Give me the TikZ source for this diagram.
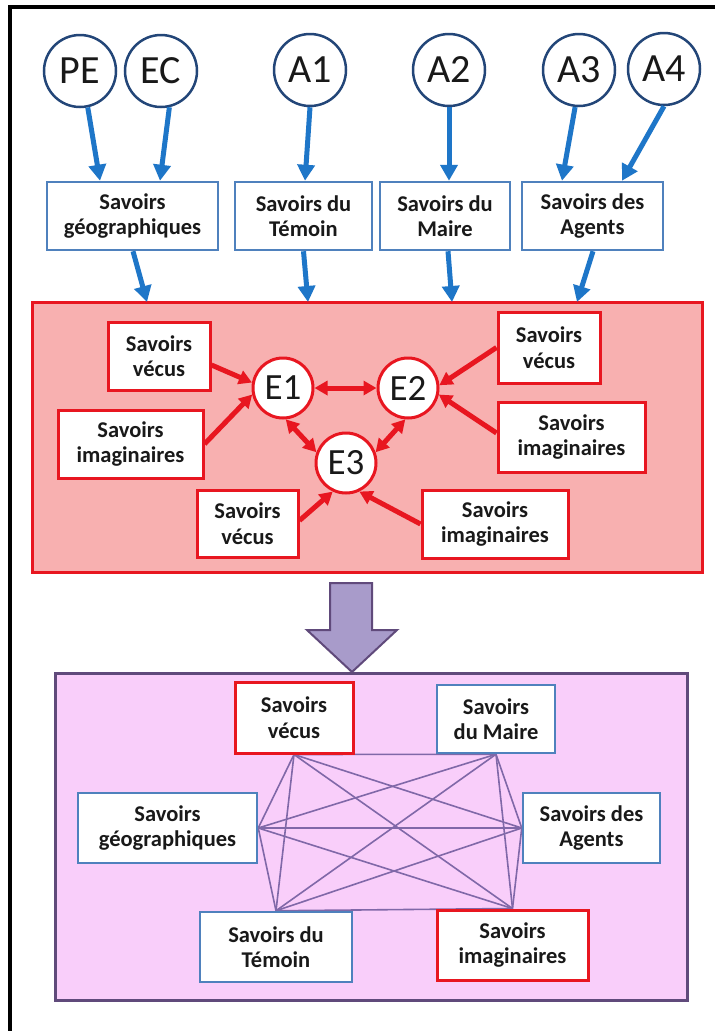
\documentclass[tikz,border=0pt]{standalone}
\usepackage{fontspec}
\setmainfont{Carlito}
\usetikzlibrary{arrows.meta,calc}
\definecolor{bluearrow}{RGB}{30,118,200}
\definecolor{boxblue}{RGB}{79,129,189}
\definecolor{circblue}{RGB}{35,70,120}
\definecolor{redline}{RGB}{232,22,32}
\definecolor{redfill}{RGB}{248,176,176}
\definecolor{purpfill}{RGB}{249,206,250}
\definecolor{purpline}{RGB}{96,74,123}
\definecolor{purpedge}{RGB}{128,104,168}
\definecolor{arrowfill}{RGB}{168,155,202}
\definecolor{txt}{RGB}{25,25,25}
\pgfdeclarelayer{back}
\pgfdeclarelayer{mid}
\pgfsetlayers{back,mid,main}
\begin{document}
\begin{tikzpicture}[x=1pt,y=-1pt,
 lbl/.style={font=\fontsize{22.5}{25.5}\selectfont\bfseries, text=txt, align=center, inner sep=0pt, fill=white},
 bbox/.style={lbl, draw=boxblue, line width=2.5pt},
 rbox/.style={lbl, draw=redline, line width=3pt},
 topcirc/.style={circle, draw=circblue, line width=2.5pt, fill=white, minimum size=72pt, inner sep=0pt, font=\fontsize{40}{44}\selectfont, text=txt},
 ecirc/.style={circle, draw=redline, line width=3pt, fill=white, minimum size=60pt, inner sep=0pt, font=\fontsize{37}{40}\selectfont, text=txt},
 barrow/.style={draw=bluearrow, line width=5pt, -{Triangle[length=16pt,width=17pt]}},
 rarrow/.style={draw=redline, line width=5pt, -{Triangle[length=13pt,width=14pt]}},
 rdarrow/.style={draw=redline, line width=5pt, {Triangle[length=13pt,width=14pt]}-{Triangle[length=13pt,width=14pt]}},
 link/.style={draw=purpedge, line width=1.6pt},
 panel/.style={inner sep=0pt, line width=3pt}
]
\useasboundingbox (0,0) rectangle (715,1031);

% panels
\begin{pgfonlayer}{back}
\fill[white] (0,0) rectangle (715,1031);
\draw[line width=3.5pt] (10,1031) -- (10,7) -- (715,7);
\node[panel, draw=redline, fill=redfill, minimum width=670pt, minimum height=270pt] (redp) at (367,437) {};
\node[panel, draw=purpline, fill=purpfill, minimum width=632pt, minimum height=327pt] (purp) at (371,836.5) {};
\end{pgfonlayer}

% top circles
\node[topcirc] (PE) at (80,71) {PE};
\node[topcirc] (EC) at (161,71) {EC};
\node[topcirc] (A1) at (310,70) {A1};
\node[topcirc] (A2) at (449,70) {A2};
\node[topcirc] (A3) at (579,70) {A3};
\node[topcirc] (A4) at (664,69) {A4};

% top boxes
\node[bbox, minimum width=171pt, minimum height=68pt] (geo) at (132.5,216) {Savoirs\\géographiques};
\node[bbox, minimum width=137pt, minimum height=68pt] (tem) at (303.5,216) {Savoirs du\\Témoin};
\node[bbox, minimum width=130pt, minimum height=68pt] (mai) at (445,216) {Savoirs du\\Maire};
\node[bbox, minimum width=141pt, minimum height=68pt] (age) at (592.5,216) {Savoirs des\\Agents};

% blue arrows
\draw[barrow] (PE.-78) -- ($(geo.north)+(-32.5,0)$);
\draw[barrow] (EC.-77) -- ($(geo.north)+(27.5,0)$);
\draw[barrow] (A1.-90) -- ($(tem.north)+(1.5,0)$);
\draw[barrow] (A2.-90) -- ($(mai.north)+(4,0)$);
\draw[barrow] (A3.-96) -- ($(age.north)+(-30.5,0)$);
\draw[barrow] (A4.-90) -- ($(age.north)+(29.5,0)$);
\draw[barrow] ($(geo.south)+(0.5,0)$) -- ($(geo.south |- redp.north)+(14.5,1.5)$);
\draw[barrow] ($(tem.south)+(0,0)$) -- ($(tem.south |- redp.north)+(4.5,1.5)$);
\draw[barrow] ($(mai.south)+(3,0)$) -- ($(mai.south |- redp.north)+(7,1.5)$);
\draw[barrow] ($(age.south)+(0.5,0)$) -- ($(age.south |- redp.north)+(-15.5,1.5)$);

% red panel content
\node[ecirc] (E1) at (283,388) {E1};
\node[ecirc] (E2) at (408,388) {E2};
\node[ecirc] (E3) at (346,463) {E3};
\node[rbox, minimum width=102pt, minimum height=68pt] (vL) at (159,356) {Savoirs\\vécus};
\node[rbox, minimum width=145pt, minimum height=68pt] (iL) at (130.5,444) {Savoirs\\imaginaires};
\node[rbox, minimum width=102pt, minimum height=71pt] (vR) at (549,347.5) {Savoirs\\vécus};
\node[rbox, minimum width=147pt, minimum height=70pt] (iR) at (571.5,437) {Savoirs\\imaginaires};
\node[rbox, minimum width=146pt, minimum height=68pt] (iB) at (495,524) {Savoirs\\imaginaires};
\node[rbox, minimum width=101pt, minimum height=67pt] (vB) at (247.5,523.5) {Savoirs\\vécus};

\draw[rarrow] ($(vL.east)+(0,9)$) -- (E1.170);
\draw[rarrow] (iL.east) -- (E1.192);
\draw[rdarrow] (E1.east) -- (E2.west);
\draw[rdarrow] (E1.275) -- (E3.160);
\draw[rdarrow] (E2.265) -- (E3.20);
\draw[rarrow] (vR.west) -- (E2.5);
\draw[rarrow] ($(iR.west)+(0,-4)$) -- (E2.-12);
\draw[rarrow] (iB.west) -- (E3.-65);
\draw[rarrow] ($(vB.east)+(0,-3)$) -- (E3.245);

% big arrow
\draw[purpline, fill=arrowfill, line width=2pt, line join=miter]
  (330,583) -- (372,583) -- (372,630) -- (397,630) -- (352,672) -- (307,630) -- (330,630) -- cycle;

% bottom boxes
\node[rbox, minimum width=118pt, minimum height=71pt] (bv) at (294,717.5) {Savoirs\\vécus};
\node[bbox, minimum width=179pt, minimum height=70pt] (bgeo) at (167.5,828) {Savoirs\\géographiques};
\node[bbox, minimum width=152pt, minimum height=70pt] (btem) at (276,947) {Savoirs du\\Témoin};
\node[bbox, minimum width=118pt, minimum height=68pt] (bmai) at (496,719) {Savoirs\\du Maire};
\node[bbox, minimum width=137pt, minimum height=70pt] (bage) at (591.5,828) {Savoirs des\\Agents};
\node[rbox, minimum width=151pt, minimum height=70pt] (bimg) at (512.5,945) {Savoirs\\imaginaires};

\begin{pgfonlayer}{mid}
\foreach \a/\b in {bv.south/bmai.south, bv.south/bgeo.east, bv.south/bage.west, bv.south/btem.north, bv.south/bimg.north,
  bmai.south/bgeo.east, bmai.south/bage.west, bmai.south/btem.north, bmai.south/bimg.north,
  bgeo.east/bage.west, bgeo.east/btem.north, bgeo.east/bimg.north,
  bage.west/btem.north, bage.west/bimg.north,
  btem.north/bimg.north}
  \draw[link] (\a) -- (\b);
\end{pgfonlayer}
\end{tikzpicture}
\end{document}
